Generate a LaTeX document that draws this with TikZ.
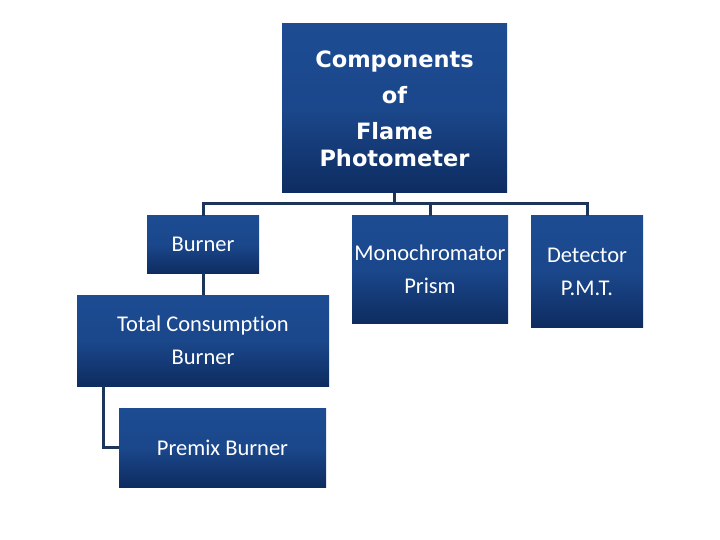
\documentclass[tikz,border=0pt]{standalone}
\usepackage{fontspec}
\setmainfont[Ligatures=NoCommon]{Carlito}
\newfontfamily\headfont{DejaVu Sans}
\definecolor{boxtop}{HTML}{1D4C93}
\definecolor{boxbot}{HTML}{0E2C60}
\definecolor{linec}{HTML}{1C3559}
\tikzset{
  box/.style={rectangle, inner sep=0pt, top color=boxtop, bottom color=boxbot, middle color=boxtop!85!boxbot, text=white, align=center, font={\fontsize{22.5}{33}\selectfont}},
  conn/.style={draw=linec, line width=3pt}
}
\begin{document}
\begin{tikzpicture}[x=1pt,y=-1pt]
\useasboundingbox (0,0) rectangle (720,540);
\node[box, minimum width=225pt, minimum height=169pt, font={\headfont\bfseries\fontsize{22.5}{36}\selectfont}] (top) at (394.5,108.5) {Components\\of\\Flame\\[-9pt]Photometer};
\node[box, minimum width=112pt, minimum height=57pt] (burner) at (203,244.5) {Burner};
\node[box, minimum width=156pt, minimum height=107pt] (mono) at (430,269.5) {Monochromator\\Prism};
\node[box, minimum width=112pt, minimum height=111pt] (det) at (587,271.5) {Detector\\P.M.T.};
\node[box, minimum width=252pt, minimum height=91pt] (tc) at (203,340.5) {Total Consumption\\Burner};
\node[box, minimum width=207pt, minimum height=79pt] (premix) at (222.5,447.5) {Premix Burner};
\coordinate (busL) at (203,204);
\coordinate (busR) at (587,204);
\draw[conn] (burner.north) -- (burner.north |- busL) -- (busR) -- (det.north);
\draw[conn] (top.south) -- (top.south |- busL);
\draw[conn] (mono.north) -- (mono.north |- busL);
\draw[conn] (burner.south) -- (tc.north);
\draw[conn] ([xshift=27pt]tc.south west) |- (premix.west);
\end{tikzpicture}
\end{document}
